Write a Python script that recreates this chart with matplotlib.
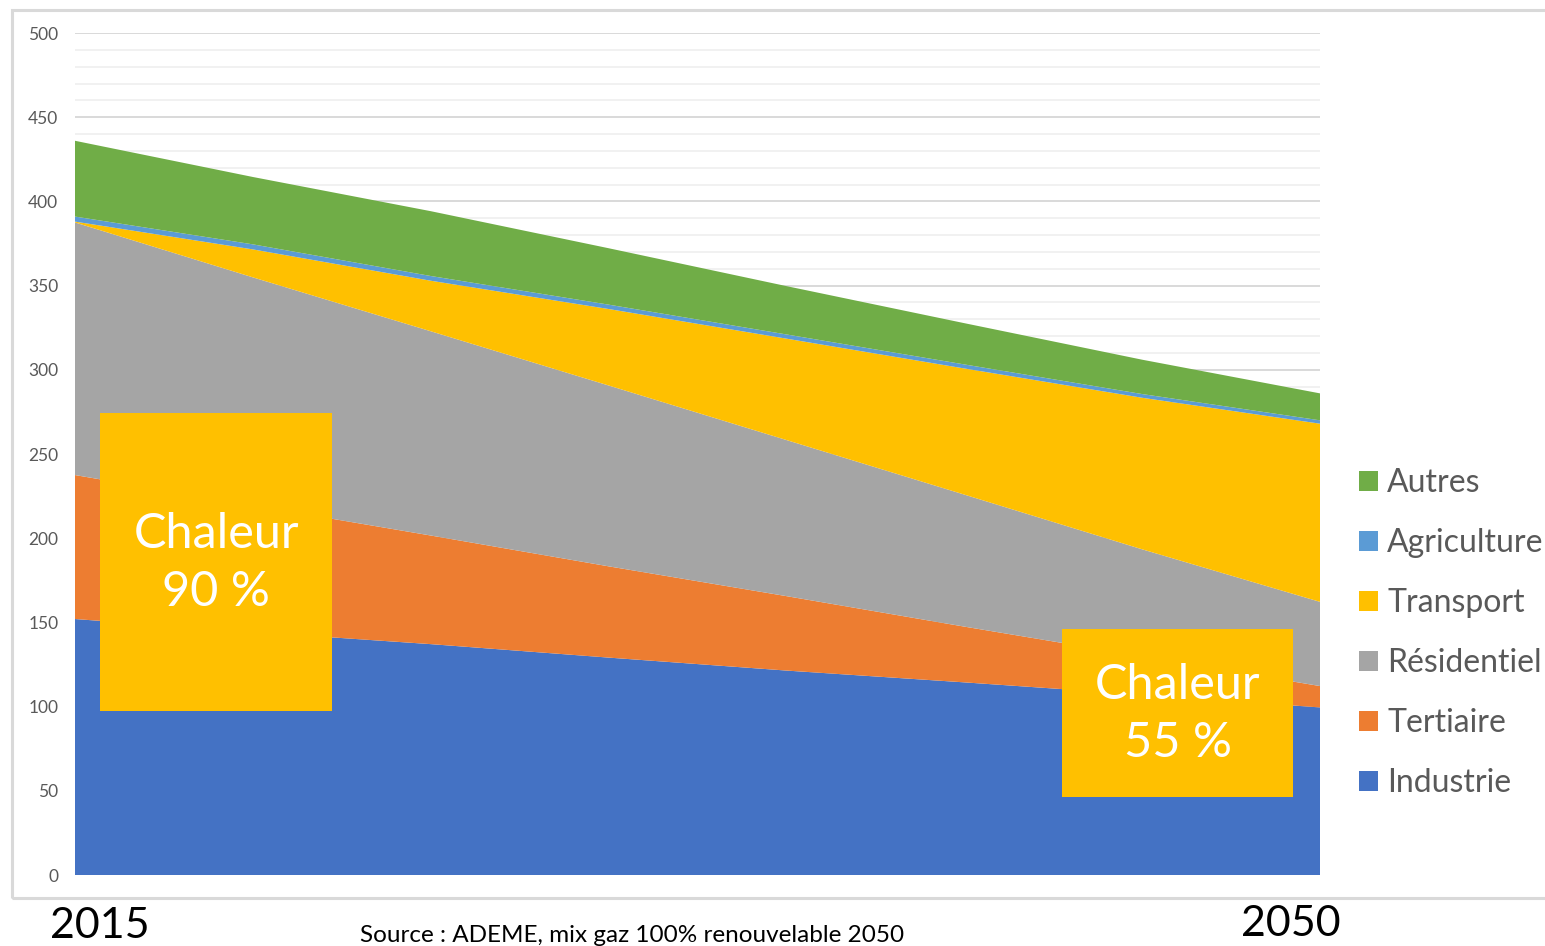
import matplotlib
matplotlib.use("Agg")
import matplotlib.pyplot as plt
from matplotlib.patches import Rectangle
import numpy as np

# data (TWh), 5-year steps
years = [2015, 2020, 2025, 2030, 2035, 2040, 2045, 2050]
industrie = [152.0, 144.3, 137.1, 129.1, 121.4, 114.4, 107.1, 99.5]
tertiaire = [85.5, 75.2, 64.5, 54.2, 44.2, 33.1, 22.8, 12.7]
residentiel = [150.0, 135.4, 121.3, 107.4, 92.7, 78.4, 63.5, 50.0]
transport = [0.5, 16.6, 30.0, 45.4, 60.2, 74.9, 90.0, 105.8]
agriculture = [3.0, 3.0, 2.8, 2.6, 2.5, 2.4, 2.2, 2.0]
autres = [45.0, 40.0, 38.5, 33.5, 28.7, 24.5, 20.4, 16.0]

labels = ["Industrie", "Tertiaire", "Résidentiel", "Transport", "Agriculture", "Autres"]
colors = ["#4472C4", "#ED7D31", "#A5A5A5", "#FFC000", "#5B9BD5", "#70AD47"]

plt.rcParams['font.family'] = ['Lato', 'DejaVu Sans']

W, H = 1545, 946
fig = plt.figure(figsize=(W / 100, H / 100), dpi=100)

def fx(px):
    return px / W

def fy(py):
    return 1 - py / H

# outer chart frame (runs off the right edge)
fig.patches.append(Rectangle((fx(12), fy(898)), fx(1600 - 12), fy(10) - fy(898),
                             transform=fig.transFigure, fill=False,
                             edgecolor="#d9d9d9", linewidth=2.2, clip_on=False))

ax = fig.add_axes([fx(75), fy(875), fx(1320) - fx(75), fy(33) - fy(875)])
ax.stackplot(years, industrie, tertiaire, residentiel, transport, agriculture, autres,
             colors=colors, labels=labels, linewidth=0)
ax.set_xlim(years[0], years[-1])
ax.set_ylim(0, 500)
ax.set_yticks(np.arange(0, 501, 50))
ax.set_yticks(np.arange(0, 501, 10), minor=True)
ax.grid(axis="y", which="major", color="#d9d9d9", linewidth=1.4)
ax.grid(axis="y", which="minor", color="#efefef", linewidth=1.2)
ax.set_axisbelow(True)
ax.set_xticks([])
ax.tick_params(axis="y", which="both", length=0, labelsize=12.5, labelcolor="#595959", pad=12)
for s in ax.spines.values():
    s.set_visible(False)

# legend, top entry = last series
handles, labs = ax.get_legend_handles_labels()
leg = fig.legend(handles[::-1], labs[::-1], loc="center left",
                 bbox_to_anchor=(fx(1343), fy(633)), frameon=False,
                 fontsize=23, handlelength=0.58, handleheight=0.58,
                 handletextpad=0.3, labelspacing=0.94, borderpad=0)
for t in leg.get_texts():
    t.set_color("#595959")

# "Chaleur" boxes
boxes = [((100, 413, 332, 711), "Chaleur\n90 %", 563),
         ((1062, 629, 1293, 797), "Chaleur\n55 %", 714)]
for (x0, y0, x1, y1), txt, yc in boxes:
    fig.patches.append(Rectangle((fx(x0), fy(y1)), fx(x1) - fx(x0), fy(y0) - fy(y1),
                                 transform=fig.transFigure, facecolor="#FFC000",
                                 edgecolor="none", zorder=5))
    fig.text(fx((x0 + x1) / 2), fy(yc), txt, ha="center", va="center", color="white",
             fontsize=35, linespacing=1.4, zorder=6)

# year labels and source under the frame
fig.text(fx(100), fy(926), "2015", ha="center", va="center", fontsize=31, color="black")
fig.text(fx(1291), fy(924), "2050", ha="center", va="center", fontsize=31, color="black")
fig.text(fx(360), fy(935), "Source : ADEME, mix gaz 100% renouvelable 2050",
         ha="left", va="center", fontsize=17.5, color="black")

fig.savefig("out.png", dpi=100)
